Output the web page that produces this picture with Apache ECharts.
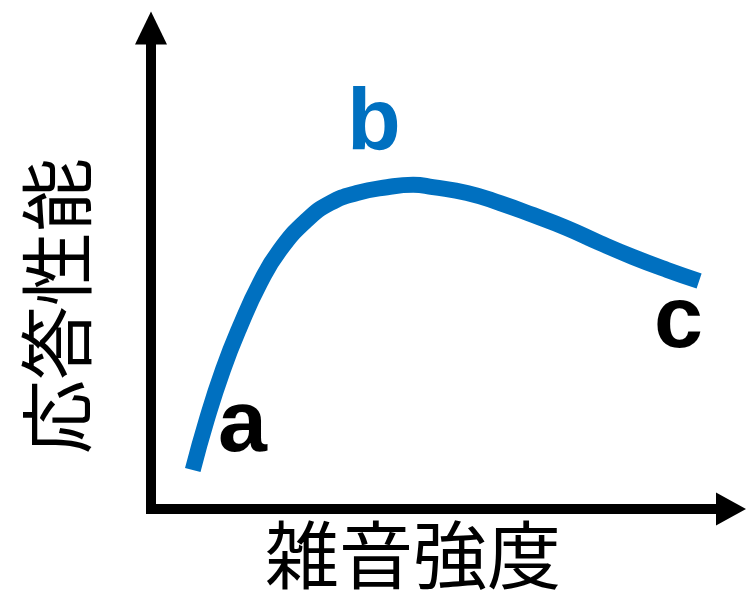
<!DOCTYPE html>
<html>
<head>
<meta charset="utf-8">
<script src="https://cdn.jsdelivr.net/npm/echarts@6/dist/echarts.min.js"></script>
<style>
  html, body { margin: 0; padding: 0; background: #fff; }
  #main { width: 747px; height: 590px; }
</style>
</head>
<body>
<div id="main"></div>
<script>
// curve (x = noise strength, y = response performance, 0..100)
var noiseX = [7.2, 9.6, 12.4, 15.3, 18.8, 22.2, 26.9, 30.9, 35.5, 40.7, 45.2, 48.6, 54.5, 60.2, 65.9, 71.7, 77.4, 83.1, 89.0, 94.5];
var responseY = [8.1, 18.5, 28.9, 37.8, 47.0, 53.8, 60.1, 63.6, 65.7, 66.9, 67.4, 66.9, 65.7, 63.6, 61.1, 58.4, 55.3, 52.4, 49.7, 47.4];
var xName = '雑音強度';
var yName = '応答性能';
var pointLabels = ['a', 'b', 'c'];

var curve = noiseX.map(function (x, i) { return [x, responseY[i]]; });

var myChart = echarts.init(document.getElementById('main'));

var jpFont = '"Noto Sans CJK JP", "Noto Sans", sans-serif';
var letterFont = '"Liberation Sans", Arial, sans-serif';

var option = {
    backgroundColor: '#fff',
    animation: false,
    grid: { left: 151, right: 16, top: 28, bottom: 81 },
    xAxis: {
        type: 'value',
        min: 0,
        max: 100,
        axisLine: {
            show: true,
            symbol: ['none', 'triangle'],
            symbolSize: [33, 30],
            lineStyle: { color: '#000', width: 10, cap: 'square' }
        },
        axisTick: { show: false },
        axisLabel: { show: false },
        splitLine: { show: false }
    },
    yAxis: {
        type: 'value',
        min: 0,
        max: 100,
        axisLine: {
            show: true,
            symbol: ['none', 'triangle'],
            symbolSize: [32, 33],
            lineStyle: { color: '#000', width: 10, cap: 'square' }
        },
        axisTick: { show: false },
        axisLabel: { show: false },
        splitLine: { show: false }
    },
    graphic: [
        { type: 'text', x: 413, y: 555,
          style: { text: xName, font: '74px ' + jpFont, fill: '#000', textAlign: 'center', textVerticalAlign: 'middle' } },
        { type: 'text', x: 57, y: 306, rotation: Math.PI / 2,
          style: { text: yName, font: '74px ' + jpFont, fill: '#000', textAlign: 'center', textVerticalAlign: 'middle' } },
        { type: 'text', x: 218, y: 427,
          style: { text: pointLabels[0], font: 'bold 88px ' + letterFont, fill: '#000', textAlign: 'left', textVerticalAlign: 'middle' } },
        { type: 'text', x: 347, y: 125,
          style: { text: pointLabels[1], font: 'bold 88px ' + letterFont, fill: '#0070C0', textAlign: 'left', textVerticalAlign: 'middle' } },
        { type: 'text', x: 654, y: 323,
          style: { text: pointLabels[2], font: 'bold 88px ' + letterFont, fill: '#000', textAlign: 'left', textVerticalAlign: 'middle' } }
    ],
    series: [
        {
            type: 'line',
            data: curve,
            smooth: true,
            showSymbol: false,
            lineStyle: { color: '#0070C0', width: 16, cap: 'butt' }
        }
    ]
};
myChart.setOption(option);
</script>
</body>
</html>
